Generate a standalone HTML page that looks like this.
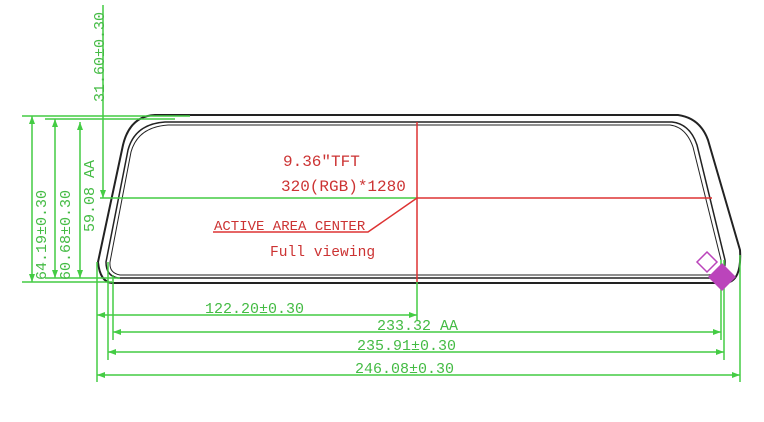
<!DOCTYPE html>
<html><head><style>body{margin:0;background:#fff}svg{display:block}</style></head><body>
<svg width="764" height="422" viewBox="0 0 764 422" xmlns="http://www.w3.org/2000/svg" font-family="Liberation Mono, monospace">
<g fill="none" stroke="#222" stroke-width="2">
<path d="M155,115 L678,115 Q700,118 708,140 L740,250 Q742,282 725,283 L112,283 Q100,282 98,262 L123,145 Q130,116 155,115 Z"/>
<path d="M165,122 L672,122 Q690,124 697,145 L725,260 Q726,278 710,278 L118,278 Q106,276 106,262 L128,150 Q135,124 165,122 Z" stroke-width="1.5"/>
<path d="M168,125 L670,125 Q686,127 693,147 L721,260 Q722,275 708,275 L120,275 Q109,273 110,262 L131,152 Q138,127 168,125 Z" stroke-width="1"/>
</g>
<g stroke="#4c4" stroke-width="1.5" fill="none">
<line x1="22" y1="116" x2="190" y2="116"/><line x1="22" y1="282" x2="112" y2="282"/>
<line x1="45" y1="119" x2="175" y2="119"/><line x1="45" y1="278" x2="120" y2="278"/>
<line x1="32" y1="116" x2="32" y2="282"/><line x1="55" y1="119" x2="55" y2="278"/><line x1="80" y1="122" x2="80" y2="278"/>
<line x1="103" y1="5" x2="103" y2="198"/><line x1="100" y1="198" x2="417" y2="198"/>
<line x1="97" y1="262" x2="97" y2="382"/><line x1="108" y1="262" x2="108" y2="360"/><line x1="113" y1="275" x2="113" y2="340"/>
<line x1="417" y1="282" x2="417" y2="320"/>
<line x1="721" y1="260" x2="721" y2="340"/><line x1="724" y1="260" x2="724" y2="360"/><line x1="740" y1="255" x2="740" y2="382"/>
<line x1="97" y1="315" x2="417" y2="315"/><line x1="113" y1="332" x2="721" y2="332"/><line x1="108" y1="352" x2="724" y2="352"/><line x1="97" y1="375" x2="740" y2="375"/>
</g>
<g fill="#4c4">
<path d="M103,198 l-3,-8 h6z"/><path d="M32,116 l-3,8 h6z"/><path d="M32,282 l-3,-8 h6z"/><path d="M55,119 l-3,8 h6z"/><path d="M55,278 l-3,-8 h6z"/><path d="M80,122 l-3,8 h6z"/><path d="M80,278 l-3,-8 h6z"/>
<path d="M97,315 l8,-3 v6z"/><path d="M417,315 l-8,-3 v6z"/><path d="M113,332 l8,-3 v6z"/><path d="M721,332 l-8,-3 v6z"/><path d="M108,352 l8,-3 v6z"/><path d="M724,352 l-8,-3 v6z"/><path d="M97,375 l8,-3 v6z"/><path d="M740,375 l-8,-3 v6z"/>
</g>
<g fill="#4b4" font-size="15">
<text transform="translate(104,102) rotate(-90)">31.60±0.30</text>
<text transform="translate(46,280) rotate(-90)">64.19±0.30</text>
<text transform="translate(70,280) rotate(-90)">60.68±0.30</text>
<text transform="translate(94,232) rotate(-90)">59.08 AA</text>
<text x="205" y="313">122.20±0.30</text>
<text x="377" y="330">233.32 AA</text>
<text x="357" y="350">235.91±0.30</text>
<text x="355" y="373">246.08±0.30</text>
</g>
<g stroke="#d33" stroke-width="1.5" fill="none">
<line x1="417" y1="122" x2="417" y2="282"/><line x1="417" y1="198" x2="712" y2="198"/>
<polyline points="213,232 368,232 417,198"/>
</g>
<g fill="#c33" font-size="16">
<text x="283" y="166">9.36″TFT</text>
<text x="281" y="191">320(RGB)*1280</text>
<text x="214" y="230" font-size="14">ACTIVE AREA CENTER</text>
<text x="270" y="256" font-size="14.6">Full viewing</text>
</g>
<path d="M722,263 l14,14 -14,14 -14,-14z" fill="#b4b"/>
<path d="M707,252 l10,10 -10,10 -10,-10z" fill="none" stroke="#b4b" stroke-width="1.5"/>
</svg>
</body></html>
